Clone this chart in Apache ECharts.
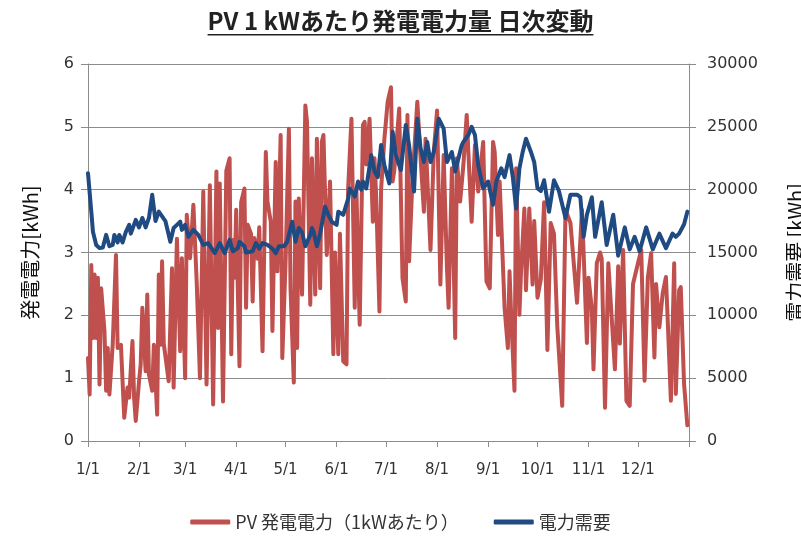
<!DOCTYPE html>
<html>
<head>
<meta charset="utf-8">
<script src="https://cdn.jsdelivr.net/npm/echarts@6/dist/echarts.min.js"></script>
<style>
  html, body { margin: 0; padding: 0; background: #fff; }
  #chart { width: 801px; height: 541px; }
</style>
</head>
<body>
<div id="chart"></div>
<script>
const titleText = "PV 1 kWあたり発電電力量 日次変動";
const monthLengths = [31, 28, 31, 30, 31, 30, 31, 31, 30, 31, 30, 31];

// PV 1kW generation [kWh/day], read at the peaks / troughs visible in the picture
const pvDays = [0, 1, 2, 3, 4, 5, 6, 7, 8, 10, 11, 12, 13, 15, 17, 18, 20, 22, 24, 25, 27, 28, 29, 31, 32, 33, 35, 36, 37, 39, 40, 42, 43, 44, 45, 46, 49, 51, 52, 54, 56, 57, 59, 60, 62, 64, 66, 68, 70, 72, 74, 76, 78, 79, 80, 82, 84, 86, 87, 88, 89, 90, 91, 92, 93, 95, 96, 97, 99, 100, 101, 103, 104, 106, 108, 109, 111, 112, 114, 115, 117, 118, 120, 122, 123, 125, 126, 127, 128, 130, 132, 133, 135, 136, 138, 139, 141, 142, 143, 145, 147, 149, 150, 152, 153, 155, 157, 158, 160, 162, 163, 165, 167, 168, 169, 171, 173, 174, 175, 177, 178, 180, 182, 184, 185, 186, 189, 191, 193, 194, 195, 197, 200, 202, 204, 205, 208, 210, 212, 214, 216, 218, 219, 221, 223, 224, 226, 228, 230, 231, 233, 235, 237, 240, 242, 244, 246, 247, 249, 250, 253, 255, 256, 257, 259, 260, 262, 263, 265, 266, 268, 270, 271, 273, 275, 277, 279, 281, 283, 285, 288, 290, 293, 297, 300, 301, 303, 304, 306, 307, 309, 311, 312, 314, 316, 318, 320, 322, 323, 325, 327, 329, 331, 334, 336, 338, 340, 342, 344, 345, 347, 349, 351, 352, 354, 356, 357, 359, 360, 362, 364];
const pvValues = [1.32, 0.74, 2.8, 1.64, 2.65, 1.64, 2.6, 0.9, 2.43, 1.75, 0.8, 1.48, 0.74, 1.53, 2.96, 1.48, 1.53, 0.37, 0.85, 0.69, 1.59, 0.69, 0.32, 0.95, 1.22, 2.12, 1.11, 2.33, 1.06, 0.8, 1.53, 0.42, 2.65, 1.53, 2.86, 1.55, 0.95, 2.75, 0.85, 3.22, 1.43, 2.91, 1.0, 3.6, 2.91, 3.76, 2.54, 1.0, 3.97, 0.9, 4.07, 0.58, 4.29, 1.8, 4.1, 0.63, 4.3, 4.5, 1.38, 3.2, 2.6, 3.68, 2.4, 1.19, 3.8, 4.02, 2.12, 3.44, 3.3, 2.22, 3.23, 2.9, 3.4, 1.43, 4.6, 3.81, 3.49, 1.75, 4.44, 2.7, 4.87, 1.32, 2.86, 4.97, 2.43, 0.93, 3.81, 1.48, 3.86, 2.33, 5.34, 5.08, 2.17, 4.5, 2.33, 4.81, 2.43, 4.76, 4.87, 2.96, 4.13, 1.38, 3.0, 1.38, 3.3, 1.27, 1.22, 4.02, 5.13, 2.12, 4.0, 1.85, 5.03, 5.08, 4.4, 5.13, 3.49, 4.5, 3.9, 2.06, 4.0, 4.81, 5.4, 5.63, 4.13, 4.3, 5.29, 2.59, 2.22, 5.19, 2.86, 4.13, 5.4, 4.5, 3.65, 4.81, 3.04, 4.6, 5.26, 2.49, 4.55, 2.75, 2.12, 4.34, 1.64, 4.5, 3.81, 4.4, 5.19, 4.6, 3.49, 4.71, 3.97, 4.76, 2.54, 2.43, 4.76, 4.6, 3.28, 4.13, 2.12, 1.48, 2.7, 2.0, 0.8, 4.34, 2.01, 2.7, 3.7, 2.4, 3.7, 2.49, 3.5, 2.28, 2.57, 3.8, 1.45, 3.47, 3.3, 1.83, 0.56, 3.68, 3.47, 2.2, 3.68, 3.0, 1.56, 2.6, 2.09, 1.14, 2.83, 3.0, 2.9, 0.53, 2.83, 1.98, 1.14, 2.78, 1.55, 3.04, 0.64, 0.56, 2.5, 2.83, 3.04, 0.96, 2.6, 2.99, 1.33, 2.5, 1.81, 2.35, 2.61, 1.97, 0.64, 2.83, 0.75, 2.4, 2.45, 0.91, 0.25];

// power demand [kWh/day]
const demandDays = [0, 2, 3, 5, 7, 9, 11, 13, 15, 16, 18, 19, 21, 23, 25, 26, 29, 31, 33, 35, 37, 39, 41, 43, 44, 47, 50, 52, 54, 56, 57, 59, 61, 64, 67, 70, 73, 77, 80, 83, 86, 88, 91, 92, 95, 96, 100, 102, 104, 106, 109, 112, 114, 116, 119, 121, 124, 126, 128, 130, 132, 135, 136, 137, 139, 141, 144, 146, 148, 151, 152, 155, 158, 159, 162, 164, 166, 167, 169, 172, 174, 176, 178, 180, 181, 183, 185, 187, 190, 193, 195, 198, 200, 202, 204, 206, 208, 210, 213, 216, 218, 221, 223, 225, 227, 228, 231, 233, 235, 237, 240, 243, 246, 248, 251, 253, 254, 256, 258, 260, 262, 264, 266, 269, 271, 273, 275, 277, 280, 283, 286, 290, 293, 297, 299, 301, 303, 306, 308, 312, 315, 319, 322, 326, 329, 332, 335, 339, 343, 347, 351, 355, 357, 359, 362, 364];
const demandValues = [21300, 18250, 16650, 15600, 15350, 15400, 16400, 15500, 15600, 16400, 15800, 16400, 15800, 16650, 17200, 16500, 17600, 17000, 17750, 17000, 17750, 19600, 17500, 18250, 18250, 17500, 15850, 16950, 17200, 17450, 16800, 17200, 16250, 16800, 16400, 15600, 15750, 14950, 15750, 14950, 16000, 15100, 15350, 15850, 15500, 15000, 15100, 15750, 15300, 15750, 15600, 15300, 14950, 15500, 15500, 15850, 17450, 15850, 16950, 16600, 15500, 16400, 16950, 16650, 15500, 16500, 18650, 18000, 17450, 17200, 18250, 18000, 19300, 20100, 19450, 20650, 20000, 20650, 20100, 22750, 21450, 21000, 23550, 21950, 21450, 20500, 24600, 22750, 21550, 25150, 23550, 19850, 25650, 23300, 22200, 23800, 22200, 23000, 25650, 24850, 22200, 23000, 21450, 22500, 23550, 23800, 24350, 25000, 24350, 21950, 20100, 20650, 18800, 20650, 21700, 21000, 21000, 22750, 21000, 18500, 21700, 23000, 24050, 23000, 22200, 20100, 19900, 20750, 18250, 20750, 19900, 17750, 19600, 19600, 19400, 16250, 18000, 19400, 16250, 19000, 15600, 18000, 14750, 17000, 15250, 16250, 15100, 17000, 15250, 16500, 15350, 16500, 16250, 16500, 17250, 18250];

// one category per day, plus the 1/1 of the next year at the right edge
const categories = [];
const monthStarts = new Set();
monthLengths.forEach((len, m) => {
  monthStarts.add(categories.length);
  for (let d = 1; d <= len; d++) categories.push(`${m + 1}/${d}`);
});
monthStarts.add(categories.length);
categories.push("1/1");

const toSeries = (days, values) => {
  const out = new Array(categories.length).fill(null);
  days.forEach((d, i) => { out[d] = values[i]; });
  return out;
};

const JP = '"Noto Sans CJK JP", sans-serif';
const NUM = '"DejaVu Sans", "Noto Sans CJK JP", sans-serif';

const measure = document.createElement("canvas").getContext("2d");
measure.font = `bold 24px "Noto Sans CJK JP"`;
const titleWidth = measure.measureText(titleText).width;

const chart = echarts.init(document.getElementById("chart"));
chart.setOption({
  animation: false,
  title: {
    text: titleText,
    left: "center",
    top: 4,
    textStyle: { fontFamily: JP, fontSize: 24, fontWeight: "bold", color: "#222" },
  },
  graphic: [
    {
      type: "rect",
      shape: { x: 400.5 - titleWidth / 2, y: 34, width: titleWidth, height: 1.5 },
      style: { fill: "#222" },
    },
  ],
  grid: { left: 88, right: 112, top: 64, bottom: 100, outerBoundsMode: "none" },
  legend: {
    bottom: 5,
    itemWidth: 40,
    itemHeight: 5,
    itemGap: 35,
    icon: "roundRect",
    textStyle: { fontFamily: JP, fontSize: 18, color: "#333" },
  },
  xAxis: {
    type: "category",
    data: categories,
    boundaryGap: false,
    axisLine: { lineStyle: { color: "#8c8c8c" } },
    axisTick: {
      interval: (i) => monthStarts.has(i),
      length: 6,
      lineStyle: { color: "#8c8c8c" },
    },
    axisLabel: {
      interval: (i) => monthStarts.has(i) && i < categories.length - 1,
      margin: 22,
      fontFamily: NUM,
      fontSize: 15,
      color: "#333",
    },
    splitLine: { show: false },
  },
  yAxis: [
    {
      type: "value",
      min: 0,
      max: 6,
      interval: 1,
      name: "発電電力[kWh]",
      nameLocation: "middle",
      nameRotate: 90,
      nameGap: 48,
      nameTextStyle: { fontFamily: JP, fontSize: 20, color: "#111" },
      axisLine: { show: true, lineStyle: { color: "#8c8c8c" } },
      axisTick: { show: true, length: 7, lineStyle: { color: "#8c8c8c" } },
      axisLabel: { margin: 14, fontFamily: NUM, fontSize: 16, color: "#333" },
      splitLine: { lineStyle: { color: "#8c8c8c", width: 1 } },
    },
    {
      type: "value",
      min: 0,
      max: 30000,
      interval: 5000,
      position: "right",
      name: "電力需要 [kWh]",
      nameLocation: "middle",
      nameRotate: 90,
      nameGap: 96,
      nameTextStyle: { fontFamily: JP, fontSize: 20, color: "#111" },
      axisLine: { show: true, lineStyle: { color: "#8c8c8c" } },
      axisTick: { show: true, length: 7, lineStyle: { color: "#8c8c8c" } },
      axisLabel: {
        margin: 18,
        fontFamily: NUM,
        fontSize: 16,
        color: "#333",
        formatter: (v) => String(v),
      },
      splitLine: { show: false },
    },
  ],
  series: [
    {
      name: "PV 発電電力（1kWあたり）",
      type: "line",
      yAxisIndex: 0,
      data: toSeries(pvDays, pvValues),
      connectNulls: true,
      showSymbol: false,
      color: "#C0504D",
      lineStyle: { width: 4, join: "round", cap: "round" },
      z: 2,
    },
    {
      name: "電力需要",
      type: "line",
      yAxisIndex: 1,
      data: toSeries(demandDays, demandValues),
      connectNulls: true,
      showSymbol: false,
      color: "#1F4A82",
      lineStyle: { width: 4, join: "round", cap: "round" },
      z: 3,
    },
  ],
});
</script>
</body>
</html>
